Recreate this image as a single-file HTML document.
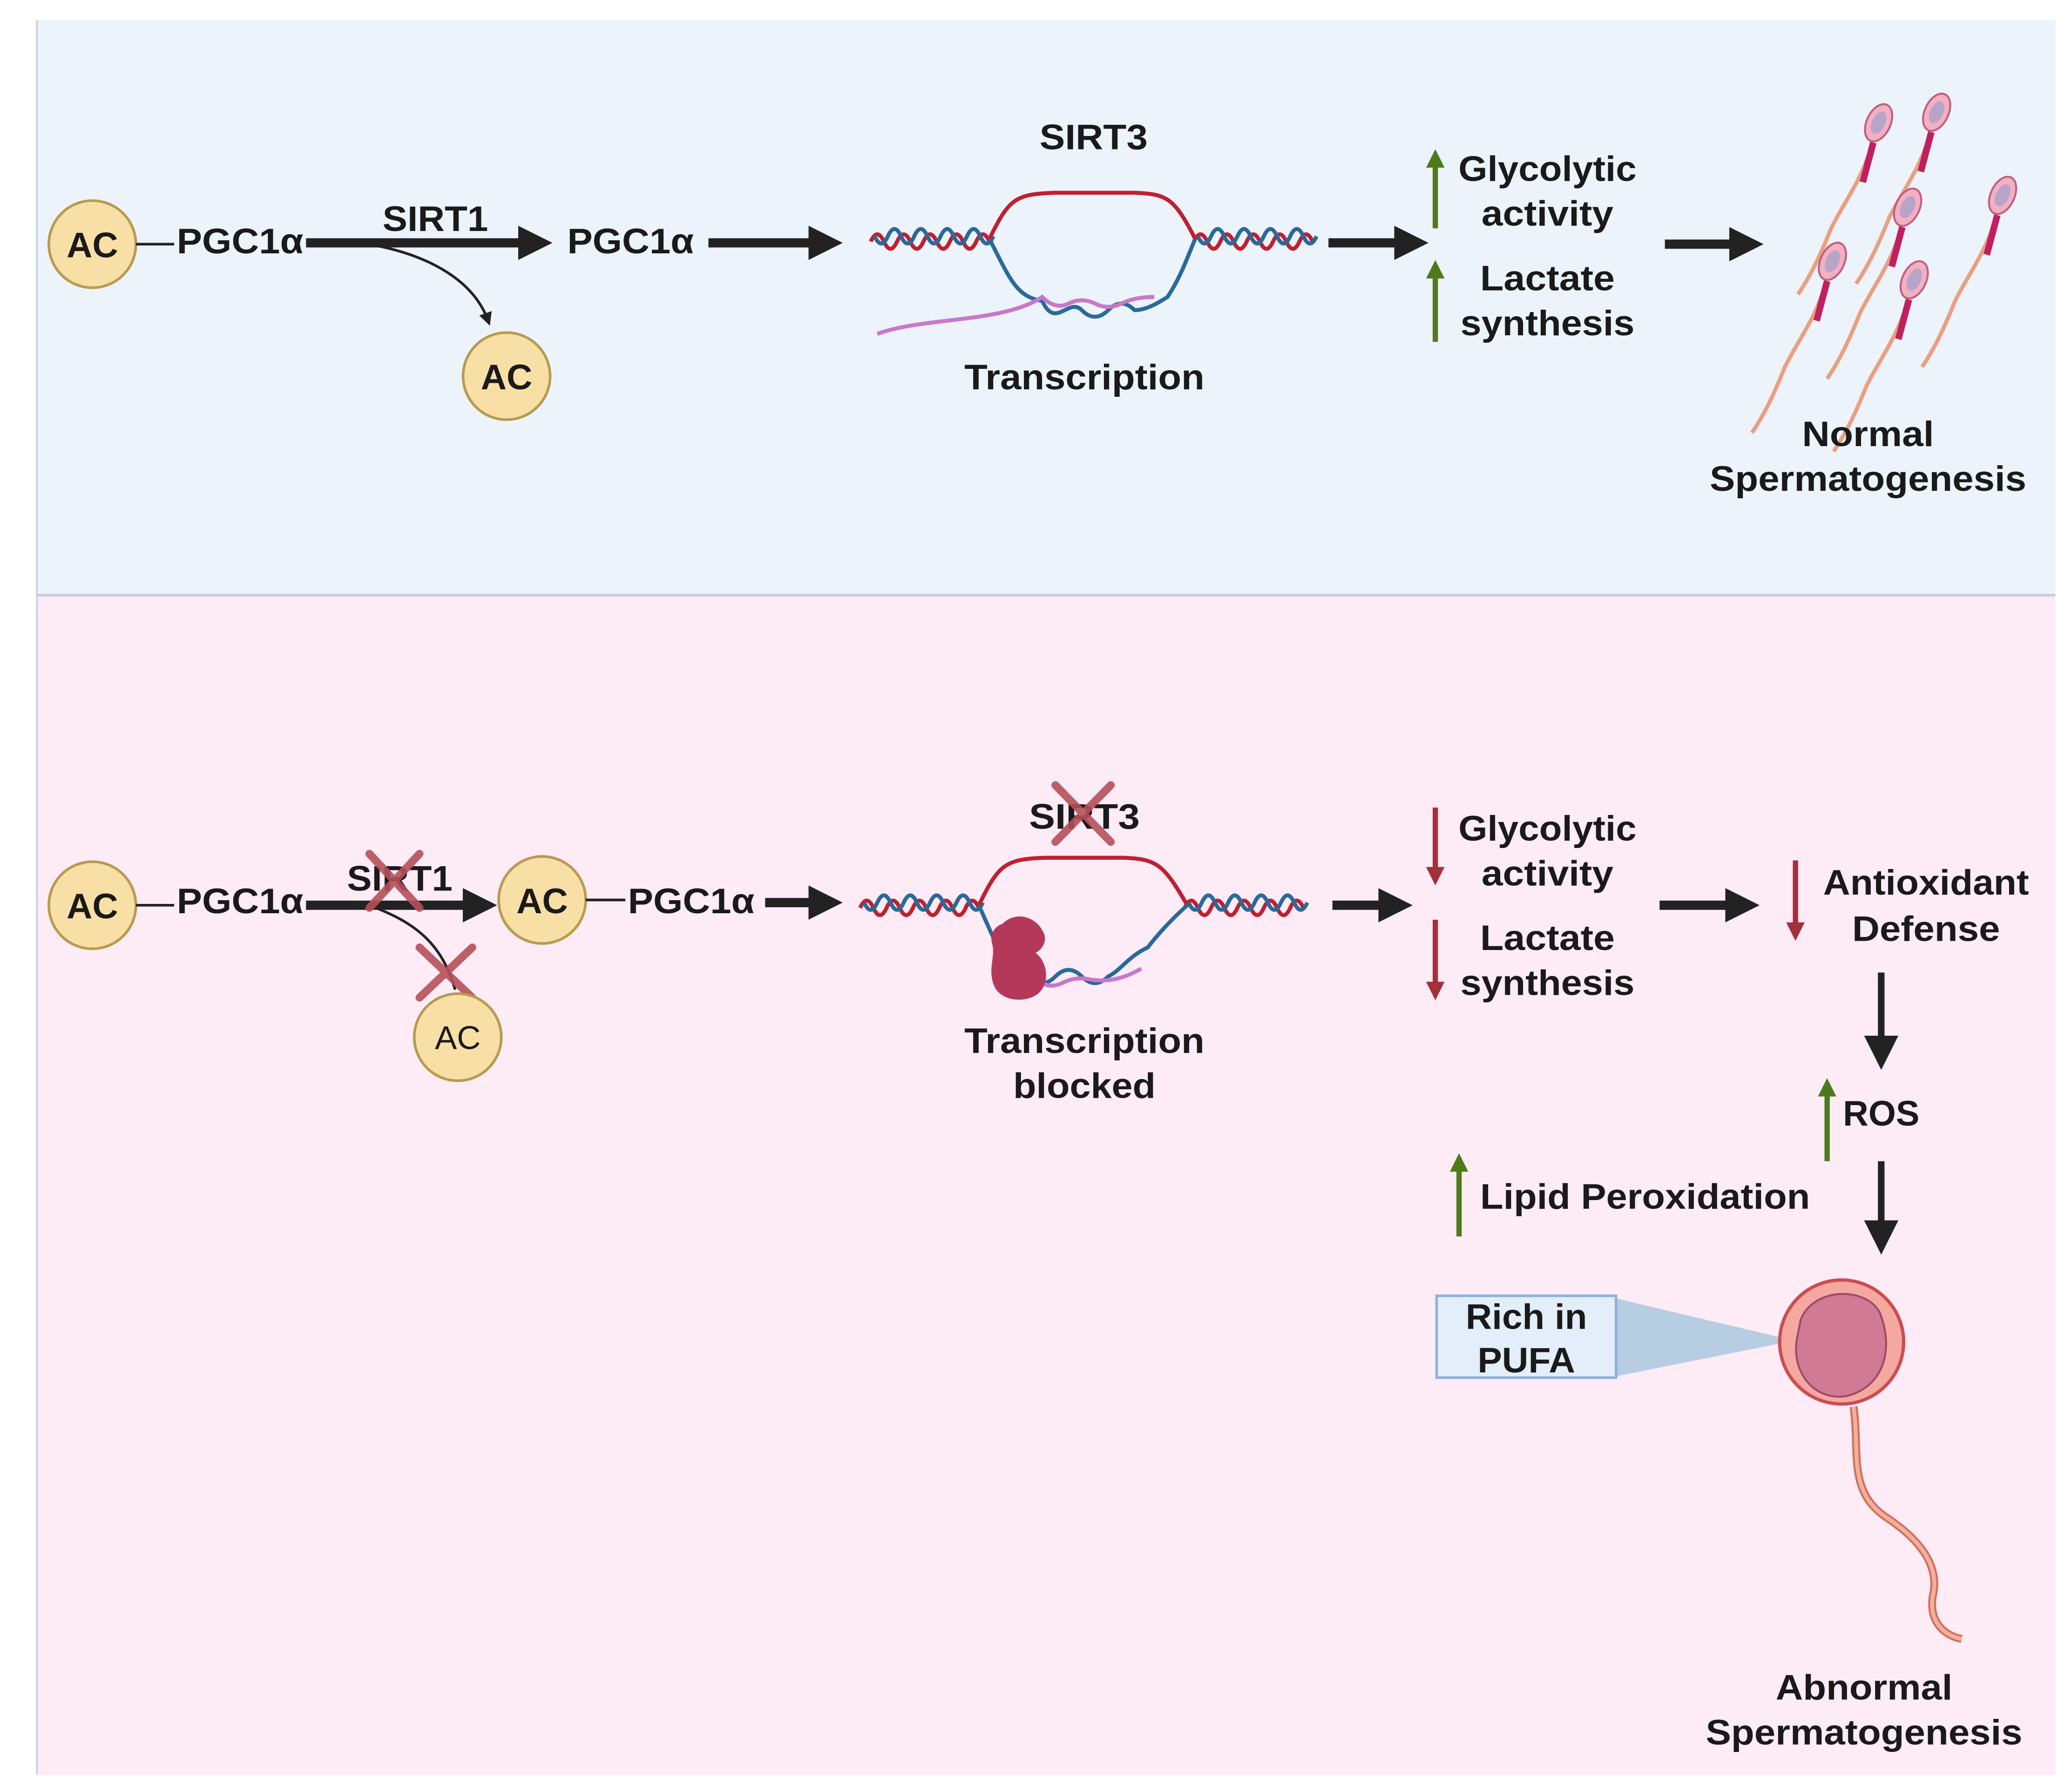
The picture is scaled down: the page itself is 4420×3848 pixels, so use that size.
<!DOCTYPE html>
<html><head><meta charset="utf-8"><style>html,body{margin:0;padding:0;background:#fff}svg{display:block}</style></head><body>
<svg xmlns="http://www.w3.org/2000/svg" width="4420" height="3848" viewBox="0 0 1560 1358">
<defs>
<marker id="ah" markerWidth="10" markerHeight="10" refX="6" refY="5" orient="auto" markerUnits="userSpaceOnUse" viewBox="0 0 10 10"><path d="M0,0 L10,5 L0,10z" fill="#222"/></marker>
<marker id="big" viewBox="0 0 10 10" refX="2" refY="5" markerWidth="26" markerHeight="26" orient="auto" markerUnits="userSpaceOnUse"><path d="M0,0 L10,5 L0,10z" fill="#222"/></marker>
<marker id="gA" viewBox="0 0 10 10" refX="5" refY="5" markerWidth="14" markerHeight="16" orient="auto" markerUnits="userSpaceOnUse"><path d="M0,0 L10,5 L0,10z" fill="#4e7a1e"/></marker>
<marker id="rA" viewBox="0 0 10 10" refX="5" refY="5" markerWidth="14" markerHeight="16" orient="auto" markerUnits="userSpaceOnUse"><path d="M0,0 L10,5 L0,10z" fill="#a3303a"/></marker>
<g id="helix">
<path d="M0,0 q5,-11 10,0 t10,0 t10,0 t10,0 t10,0 t10,0 t10,0 t10,0 t10,0" fill="none" stroke="#c02030" stroke-width="3" transform="translate(0,2)"/>
<path d="M0,0 q5,11 10,0 t10,0 t10,0 t10,0 t10,0 t10,0 t10,0 t10,0 t10,0" fill="none" stroke="#2a6a9a" stroke-width="3" transform="translate(3,-2)"/>
</g>
<g id="sperm">
<path d="M0,0 C-8,25 -20,40 -30,60 C-38,80 -45,95 -55,110" fill="none" stroke="#e8a080" stroke-width="3"/>
<path d="M2,-5 L-6,25" stroke="#c02060" stroke-width="5"/>
<ellipse cx="6" cy="-20" rx="9" ry="15" transform="rotate(25 6 -20)" fill="#f2b0c0" stroke="#c06080" stroke-width="1.5"/>
<ellipse cx="6" cy="-20" rx="5" ry="9" transform="rotate(25 6 -20)" fill="#a0a0d0" opacity="0.7"/>
</g>
</defs>
<rect x="0" y="0" width="1560" height="1358" fill="#fff"/>
<rect x="28" y="15" width="1530" height="436" fill="#ecf3fb"/>
<rect x="28" y="451" width="1530" height="894" fill="#fdebf6"/>
<line x1="28" y1="451" x2="1558" y2="451" stroke="#c8cde0" stroke-width="2"/>
<line x1="28" y1="15" x2="28" y2="1345" stroke="#c8d4e6" stroke-width="1.5"/>

<g font-family="Liberation Sans, sans-serif" font-weight="bold" fill="#1a1a1a" font-size="27" text-anchor="middle">
<circle cx="70" cy="185" r="33" fill="#f7dfa6" stroke="#b89a50" stroke-width="2"/>
<text x="70" y="195">AC</text>
<line x1="103" y1="185" x2="132" y2="185" stroke="#222" stroke-width="2"/>
<text x="182" y="192" textLength="96" lengthAdjust="spacingAndGlyphs">PGC1α</text>
<line x1="232" y1="184" x2="398" y2="184" stroke="#222" stroke-width="7" marker-end="url(#big)"/>
<text x="330" y="175" textLength="80" lengthAdjust="spacingAndGlyphs">SIRT1</text>
<path d="M285,186 C330,195 360,215 370,243" fill="none" stroke="#222" stroke-width="2" marker-end="url(#ah)"/>
<circle cx="384" cy="285" r="33" fill="#f7dfa6" stroke="#b89a50" stroke-width="2"/>
<text x="384" y="295">AC</text>
<text x="478" y="192" textLength="96" lengthAdjust="spacingAndGlyphs">PGC1α</text>
<line x1="537" y1="184" x2="618" y2="184" stroke="#222" stroke-width="7" marker-end="url(#big)"/>
<text x="829" y="113" textLength="82" lengthAdjust="spacingAndGlyphs">SIRT3</text>
<use href="#helix" x="660" y="181"/>
<use href="#helix" x="905" y="181"/>
<path d="M750,181 C765,150 770,147 800,146 L860,146 C885,147 890,150 906,181" fill="none" stroke="#c02030" stroke-width="3"/>
<path d="M750,181 C765,210 770,225 790,228 C800,250 810,225 820,235 q10,10 20,0 t20,0 C870,235 880,228 885,225 C895,210 900,195 906,181" fill="none" stroke="#2a6a9a" stroke-width="3"/>
<path d="M665,253 C700,240 760,245 790,225 q10,10 20,5 t20,0 t20,0 t25,-5" fill="none" stroke="#c878c8" stroke-width="3"/>
<text x="822" y="295" textLength="182" lengthAdjust="spacingAndGlyphs">Transcription</text>
<line x1="1007" y1="184" x2="1062" y2="184" stroke="#222" stroke-width="7" marker-end="url(#big)"/>
<line x1="1088" y1="173" x2="1088" y2="120" stroke="#4e7a1e" stroke-width="4" marker-end="url(#gA)"/>
<line x1="1088" y1="259" x2="1088" y2="204" stroke="#4e7a1e" stroke-width="4" marker-end="url(#gA)"/>
<text x="1173" y="137" textLength="135" lengthAdjust="spacingAndGlyphs">Glycolytic</text>
<text x="1173" y="171" textLength="100" lengthAdjust="spacingAndGlyphs">activity</text>
<text x="1173" y="220" textLength="102" lengthAdjust="spacingAndGlyphs">Lactate</text>
<text x="1173" y="254" textLength="132" lengthAdjust="spacingAndGlyphs">synthesis</text>
<line x1="1262" y1="185" x2="1316" y2="185" stroke="#222" stroke-width="7" marker-end="url(#big)"/>
<use href="#sperm" x="1418" y="113"/>
<use href="#sperm" x="1462" y="105"/>
<use href="#sperm" x="1440" y="177"/>
<use href="#sperm" x="1512" y="168"/>
<use href="#sperm" x="1383" y="218"/>
<use href="#sperm" x="1445" y="232"/>
<text x="1416" y="338" textLength="100" lengthAdjust="spacingAndGlyphs">Normal</text>
<text x="1416" y="372" textLength="240" lengthAdjust="spacingAndGlyphs">Spermatogenesis</text>

<circle cx="70" cy="686" r="33" fill="#f7dfa6" stroke="#b89a50" stroke-width="2"/>
<text x="70" y="696">AC</text>
<line x1="103" y1="686" x2="132" y2="686" stroke="#222" stroke-width="2"/>
<text x="182" y="692" textLength="96" lengthAdjust="spacingAndGlyphs">PGC1α</text>
<line x1="232" y1="686" x2="356" y2="686" stroke="#222" stroke-width="7" marker-end="url(#big)"/>
<text x="303" y="675" textLength="80" lengthAdjust="spacingAndGlyphs">SIRT1</text>
<path d="M280,647 L318,688 M318,647 L280,688" stroke="#b5505a" stroke-width="6" stroke-linecap="round" opacity="0.9"/>
<path d="M285,688 C315,700 335,715 345,750" fill="none" stroke="#222" stroke-width="2"/>
<path d="M318,718 L358,756 M358,718 L318,756" stroke="#b5505a" stroke-width="6" stroke-linecap="round" opacity="0.9"/>
<circle cx="347" cy="786" r="33" fill="#f7dfa6" stroke="#b89a50" stroke-width="2"/>
<text x="347" y="795" font-weight="normal" font-size="25">AC</text>
<circle cx="411" cy="682" r="33" fill="#f7dfa6" stroke="#b89a50" stroke-width="2"/>
<text x="411" y="692">AC</text>
<line x1="444" y1="682" x2="474" y2="682" stroke="#222" stroke-width="2"/>
<text x="524" y="692" textLength="96" lengthAdjust="spacingAndGlyphs">PGC1α</text>
<line x1="580" y1="684" x2="618" y2="684" stroke="#222" stroke-width="7" marker-end="url(#big)"/>
<text x="822" y="628" textLength="84" lengthAdjust="spacingAndGlyphs">SIRT3</text>
<path d="M800,595 L842,638 M842,595 L800,638" stroke="#b5505a" stroke-width="6" stroke-linecap="round" opacity="0.9"/>
<use href="#helix" x="652" y="686"/>
<use href="#helix" x="898" y="686"/>
<path d="M742,686 C757,655 762,651 792,650 L852,650 C877,651 882,655 900,686" fill="none" stroke="#c02030" stroke-width="3"/>
<path d="M742,686 C755,715 762,735 780,740 q10,10 20,0 t20,0 t20,0 C850,735 855,725 870,718 C880,705 890,695 900,686" fill="none" stroke="#2a6a9a" stroke-width="3"/>
<path d="M785,742 q10,8 20,3 t20,-3 t20,0 t20,-8" fill="none" stroke="#c878c8" stroke-width="3"/>
<path d="M760,700 C770,690 785,695 790,705 C795,712 790,720 785,722 C795,730 795,745 788,752 C780,760 760,760 754,748 C748,735 755,725 752,715 C750,708 754,702 760,700z" fill="#b4385a"/>
<text x="822" y="798" textLength="182" lengthAdjust="spacingAndGlyphs">Transcription</text>
<text x="822" y="832" textLength="108" lengthAdjust="spacingAndGlyphs">blocked</text>
<line x1="1010" y1="686" x2="1050" y2="686" stroke="#222" stroke-width="7" marker-end="url(#big)"/>
<line x1="1088" y1="612" x2="1088" y2="664" stroke="#a3303a" stroke-width="4" marker-end="url(#rA)"/>
<line x1="1088" y1="697" x2="1088" y2="751" stroke="#a3303a" stroke-width="4" marker-end="url(#rA)"/>
<text x="1173" y="637" textLength="135" lengthAdjust="spacingAndGlyphs">Glycolytic</text>
<text x="1173" y="671" textLength="100" lengthAdjust="spacingAndGlyphs">activity</text>
<text x="1173" y="720" textLength="102" lengthAdjust="spacingAndGlyphs">Lactate</text>
<text x="1173" y="754" textLength="132" lengthAdjust="spacingAndGlyphs">synthesis</text>
<line x1="1258" y1="686" x2="1313" y2="686" stroke="#222" stroke-width="7" marker-end="url(#big)"/>
<line x1="1361" y1="652" x2="1361" y2="706" stroke="#a3303a" stroke-width="4" marker-end="url(#rA)"/>
<text x="1460" y="678" textLength="156" lengthAdjust="spacingAndGlyphs">Antioxidant</text>
<text x="1460" y="713" textLength="112" lengthAdjust="spacingAndGlyphs">Defense</text>
<line x1="1426" y1="737" x2="1426" y2="790" stroke="#222" stroke-width="5" marker-end="url(#big)"/>
<line x1="1385" y1="880" x2="1385" y2="824" stroke="#4e7a1e" stroke-width="4" marker-end="url(#gA)"/>
<text x="1426" y="853" textLength="58" lengthAdjust="spacingAndGlyphs">ROS</text>
<line x1="1106" y1="937" x2="1106" y2="881" stroke="#4e7a1e" stroke-width="4" marker-end="url(#gA)"/>
<text x="1247" y="916" textLength="250" lengthAdjust="spacingAndGlyphs">Lipid Peroxidation</text>
<line x1="1426" y1="880" x2="1426" y2="930" stroke="#222" stroke-width="5" marker-end="url(#big)"/>
<path d="M1225,984 L1225,1043 L1360,1016z" fill="#b6cde2"/>
<rect x="1089" y="982" width="136" height="62" fill="#e3eefa" stroke="#8fb0dc" stroke-width="2"/>
<text x="1157" y="1007" textLength="92" lengthAdjust="spacingAndGlyphs">Rich in</text>
<text x="1157" y="1040" textLength="74" lengthAdjust="spacingAndGlyphs">PUFA</text>
<path d="M1405,1066 C1410,1100 1400,1130 1430,1150 C1460,1170 1470,1190 1465,1210 C1462,1230 1475,1240 1487,1242" fill="none" stroke="#d07060" stroke-width="6"/>
<path d="M1405,1066 C1410,1100 1400,1130 1430,1150 C1460,1170 1470,1190 1465,1210 C1462,1230 1475,1240 1487,1242" fill="none" stroke="#f2b09a" stroke-width="3"/>
<circle cx="1396" cy="1017" r="47" fill="#f4a8a0" stroke="#cc4c50" stroke-width="2.5"/>
<path d="M1365,1000 C1375,975 1415,975 1425,995 C1435,1020 1430,1050 1400,1058 C1375,1062 1358,1040 1362,1015z" fill="#d17a96" stroke="#a04a6a" stroke-width="1.5"/>
<text x="1413" y="1288" textLength="134" lengthAdjust="spacingAndGlyphs">Abnormal</text>
<text x="1413" y="1322" textLength="240" lengthAdjust="spacingAndGlyphs">Spermatogenesis</text>
</g>
</svg>
</body></html>
